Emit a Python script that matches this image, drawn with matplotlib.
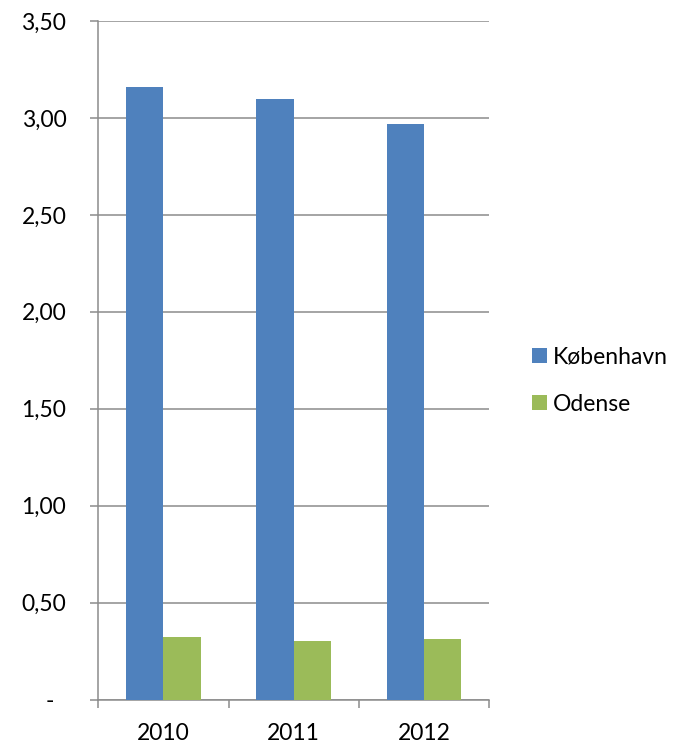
import matplotlib
matplotlib.use("Agg")
import matplotlib.pyplot as plt
import numpy as np

categories = ["2010", "2011", "2012"]
kobenhavn = [3.16, 3.10, 2.97]
odense = [0.32, 0.30, 0.31]
series_names = ["København", "Odense"]
ytick_values = [0, 0.5, 1.0, 1.5, 2.0, 2.5, 3.0, 3.5]
ytick_labels = ["-", "0,50", "1,00", "1,50", "2,00", "2,50", "3,00", "3,50"]

plt.rcParams['font.family'] = ['Lato', 'DejaVu Sans']

blue = "#4F81BD"
green = "#9BBB59"
grid_c = "#8C8C8C"
fs = 16.5

fig = plt.figure(figsize=(6.77, 7.52), dpi=100)
ax = fig.add_axes([0.1452, 0.0698, 0.5771, 0.9023])

x = np.arange(len(categories))
w = 1 / 3.5
b1 = ax.bar(x - w / 2, kobenhavn, width=w, color=blue, label=series_names[0], zorder=3)
b2 = ax.bar(x + w / 2, odense, width=w, color=green, label=series_names[1], zorder=3)

ax.set_xlim(-0.5, len(categories) - 0.5)
ax.set_ylim(0, 3.5)

ax.set_yticks(ytick_values)
ax.set_yticklabels([l if l != "-" else "-  " for l in ytick_labels], fontsize=fs)
ax.yaxis.grid(True, color=grid_c, linewidth=1.1, zorder=0)
ax.set_axisbelow(True)

ax.set_xticks(x)
ax.set_xticklabels(categories, fontsize=fs)
ax.set_xticks(np.arange(-0.5, len(categories)), minor=True)
ax.tick_params(axis='x', which='major', length=0, pad=17)
ax.tick_params(axis='x', which='minor', length=6, width=1.1, color=grid_c, direction='out')
ax.tick_params(axis='y', which='major', length=6, width=1.1, color=grid_c, direction='out', pad=17)

for s in ["top", "right"]:
    ax.spines[s].set_visible(False)
for s in ["left", "bottom"]:
    ax.spines[s].set_color(grid_c)
    ax.spines[s].set_linewidth(1.1)

leg = fig.legend(handles=[b1, b2], labels=series_names, loc="center left",
                 bbox_to_anchor=(0.773, 0.494), frameon=False, fontsize=fs,
                 handlelength=0.62, handleheight=0.62, handletextpad=0.25,
                 labelspacing=1.15, borderaxespad=0)

fig.savefig("out.png", dpi=100)
